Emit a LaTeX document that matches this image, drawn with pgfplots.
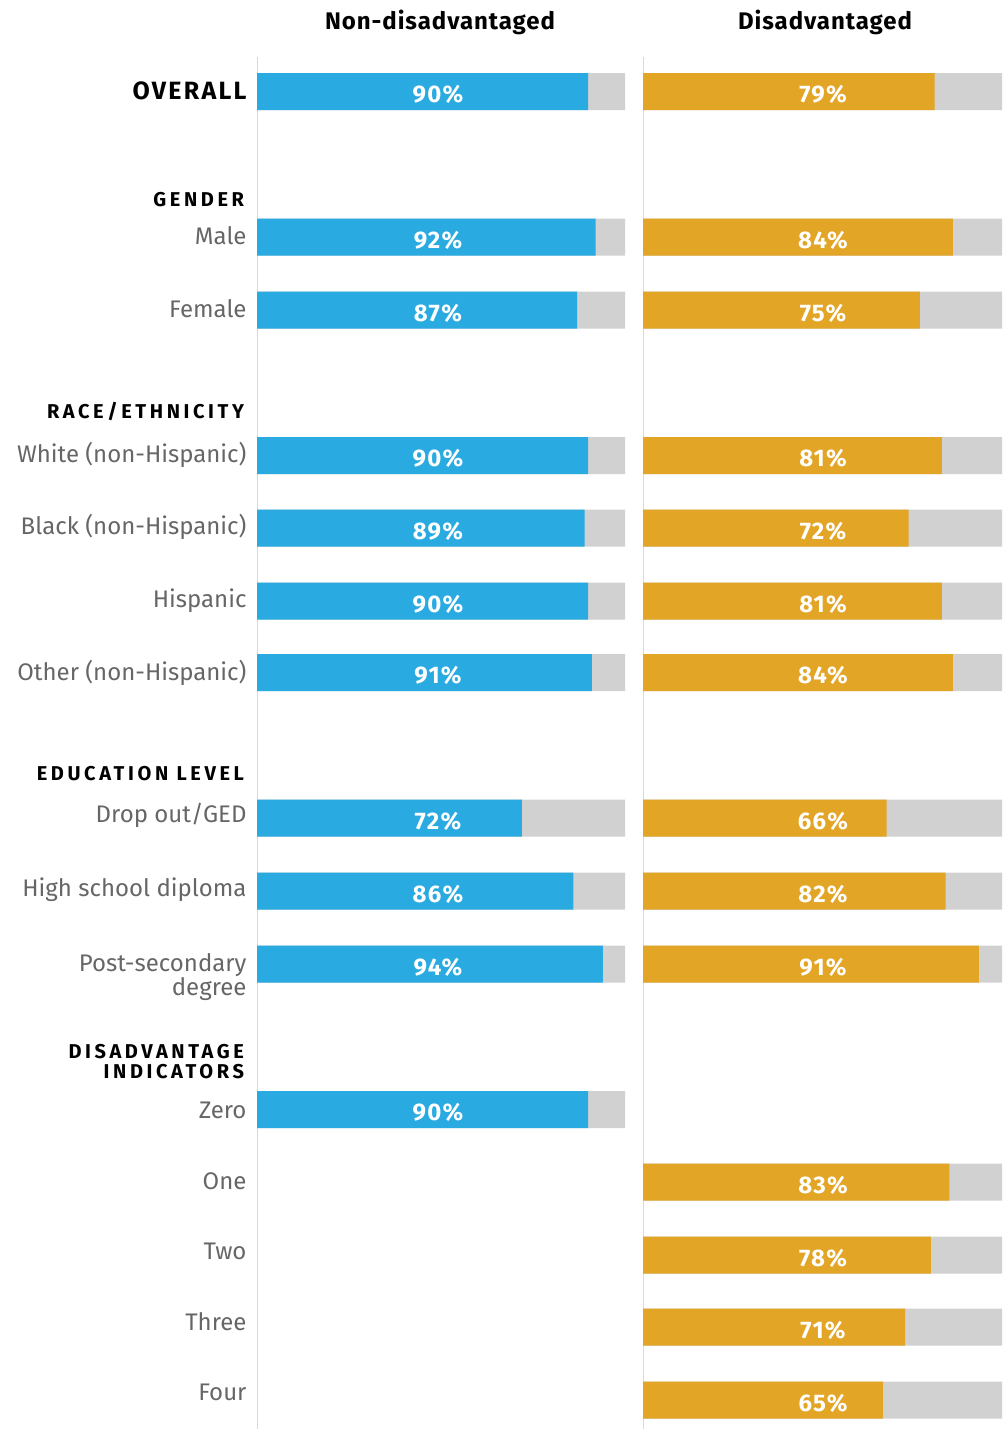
\documentclass[border=0pt]{standalone}
\usepackage{fontspec}
\setmainfont{Fira Sans}
\newfontfamily\hdrfont[LetterSpace=18]{Fira Sans}
\newfontfamily\ovrfont[LetterSpace=9]{Fira Sans}
\newfontfamily\colfont[LetterSpace=4]{Fira Sans}
\newfontfamily\valfont[LetterSpace=5]{Fira Sans}
\usepackage{pgfplots}
\pgfplotsset{compat=1.18}
\usepackage{pgfplotstable}
\definecolor{cblue}{HTML}{29ABE2}
\definecolor{corange}{HTML}{E3A526}
\definecolor{cgray}{HTML}{D1D1D1}
\definecolor{cline}{HTML}{D9D9D9}
\definecolor{ctext}{HTML}{666666}

\pgfplotstableread{
y      val  full  pos
91.5   90   100   48.9
237    92   100   48.9
310    87   100   48.9
455.5  90   100   48.9
528    89   100   48.9
601    90   100   48.9
672.5  91   100   48.9
818    72   100   48.9
891    86   100   48.9
964    94   100   48.9
1109.5 90   100   48.9
}\leftdata

\pgfplotstableread{
y      val  full  pos
91.5   79   100   48.5
237    84   100   48.5
310    75   100   48.5
455.5  81   100   48.5
528    72   100   48.5
601    81   100   48.5
672.5  84   100   48.5
818    66   100   48.5
891    82   100   48.5
964    91   100   48.5
1182   83   100   48.5
1255   78   100   48.5
1327   71   100   48.5
1400   65   100   48.5
}\rightdata

\pgfplotsset{
  panel/.style={
    scale only axis,
    hide axis,
    height=1429pt,
    ymin=0, ymax=1429,
    y dir=reverse,
    xmin=0,
    anchor=north west,
  },
  graybar/.style={xbar, bar shift=0pt, bar width=37, fill=cgray, draw=none},
  valbar/.style={xbar, bar shift=0pt, bar width=37, fill=#1, draw=none},
  vallab/.style={draw=none, mark=none, point meta=explicit symbolic,
    nodes near coords={\pgfplotspointmeta\%},
    every node near coord/.style={anchor=base, yshift=-11pt, xshift=1pt, text=white,
      font=\valfont\fontsize{24}{28}\selectfont\bfseries, inner sep=0pt}},
}

\begin{document}
\begin{tikzpicture}[x=1pt,y=-1pt]
\useasboundingbox (0,0) rectangle (1002,1429);

% column headers
\node[anchor=base, font=\colfont\fontsize{24}{28}\selectfont\bfseries] at (440,30) {Non-disadvantaged};
\node[anchor=base, font=\colfont\fontsize{24}{28}\selectfont\bfseries] at (825,30) {Disadvantaged};

% category labels
\node[anchor=base east, font=\ovrfont\fontsize{25}{29}\selectfont\bfseries] at (250,99.5) {OVERALL};
\begin{scope}[every node/.style={anchor=base east, font=\hdrfont\fontsize{20}{24}\selectfont\bfseries}]
\node at (247.5,206.5) {GENDER};
\node at (247.5,418) {RACE/ETHNICITY};
\node at (247.5,780) {EDUCATION LEVEL};
\node at (247.5,1058) {DISADVANTAGE};
\node at (247.5,1078.5) {INDICATORS};
\end{scope}
\begin{scope}[every node/.style={anchor=base east, text=ctext, font=\fontsize{24}{28}\selectfont}]
\node at (250,244.5) {Male};
\node at (250,317.5) {Female};
\node at (250,462.3) {White (non-Hispanic)};
\node at (250,534.3) {Black (non-Hispanic)};
\node at (250,607.3) {Hispanic};
\node at (250,680.7) {Other (non-Hispanic)};
\node at (250,822.7) {Drop out/GED};
\node at (250,896) {High school diploma};
\node at (250,971.7) {Post-secondary};
\node at (250,995) {degree};
\node at (250,1118) {Zero};
\node at (250,1189.3) {One};
\node at (250,1259) {Two};
\node at (250,1330) {Three};
\node at (250,1400) {Four};
\end{scope}

% left panel
\begin{axis}[panel, at={(257pt,0pt)}, width=368pt, xmax=100]
\draw[cline, line width=2pt] (axis cs:0,57) -- (axis cs:0,1429);
\addplot[graybar] table[x=full, y=y] {\leftdata};
\addplot[valbar=cblue] table[x=val, y=y] {\leftdata};
\addplot[vallab] table[x=pos, y=y, meta=val] {\leftdata};
\end{axis}

% right panel
\begin{axis}[panel, at={(643pt,0pt)}, width=359pt, xmax=97.29]
\draw[cline, line width=2pt] (axis cs:0,57) -- (axis cs:0,1429);
\addplot[graybar] table[x=full, y=y] {\rightdata};
\addplot[valbar=corange] table[x=val, y=y] {\rightdata};
\addplot[vallab] table[x=pos, y=y, meta=val] {\rightdata};
\end{axis}
\end{tikzpicture}
\end{document}
